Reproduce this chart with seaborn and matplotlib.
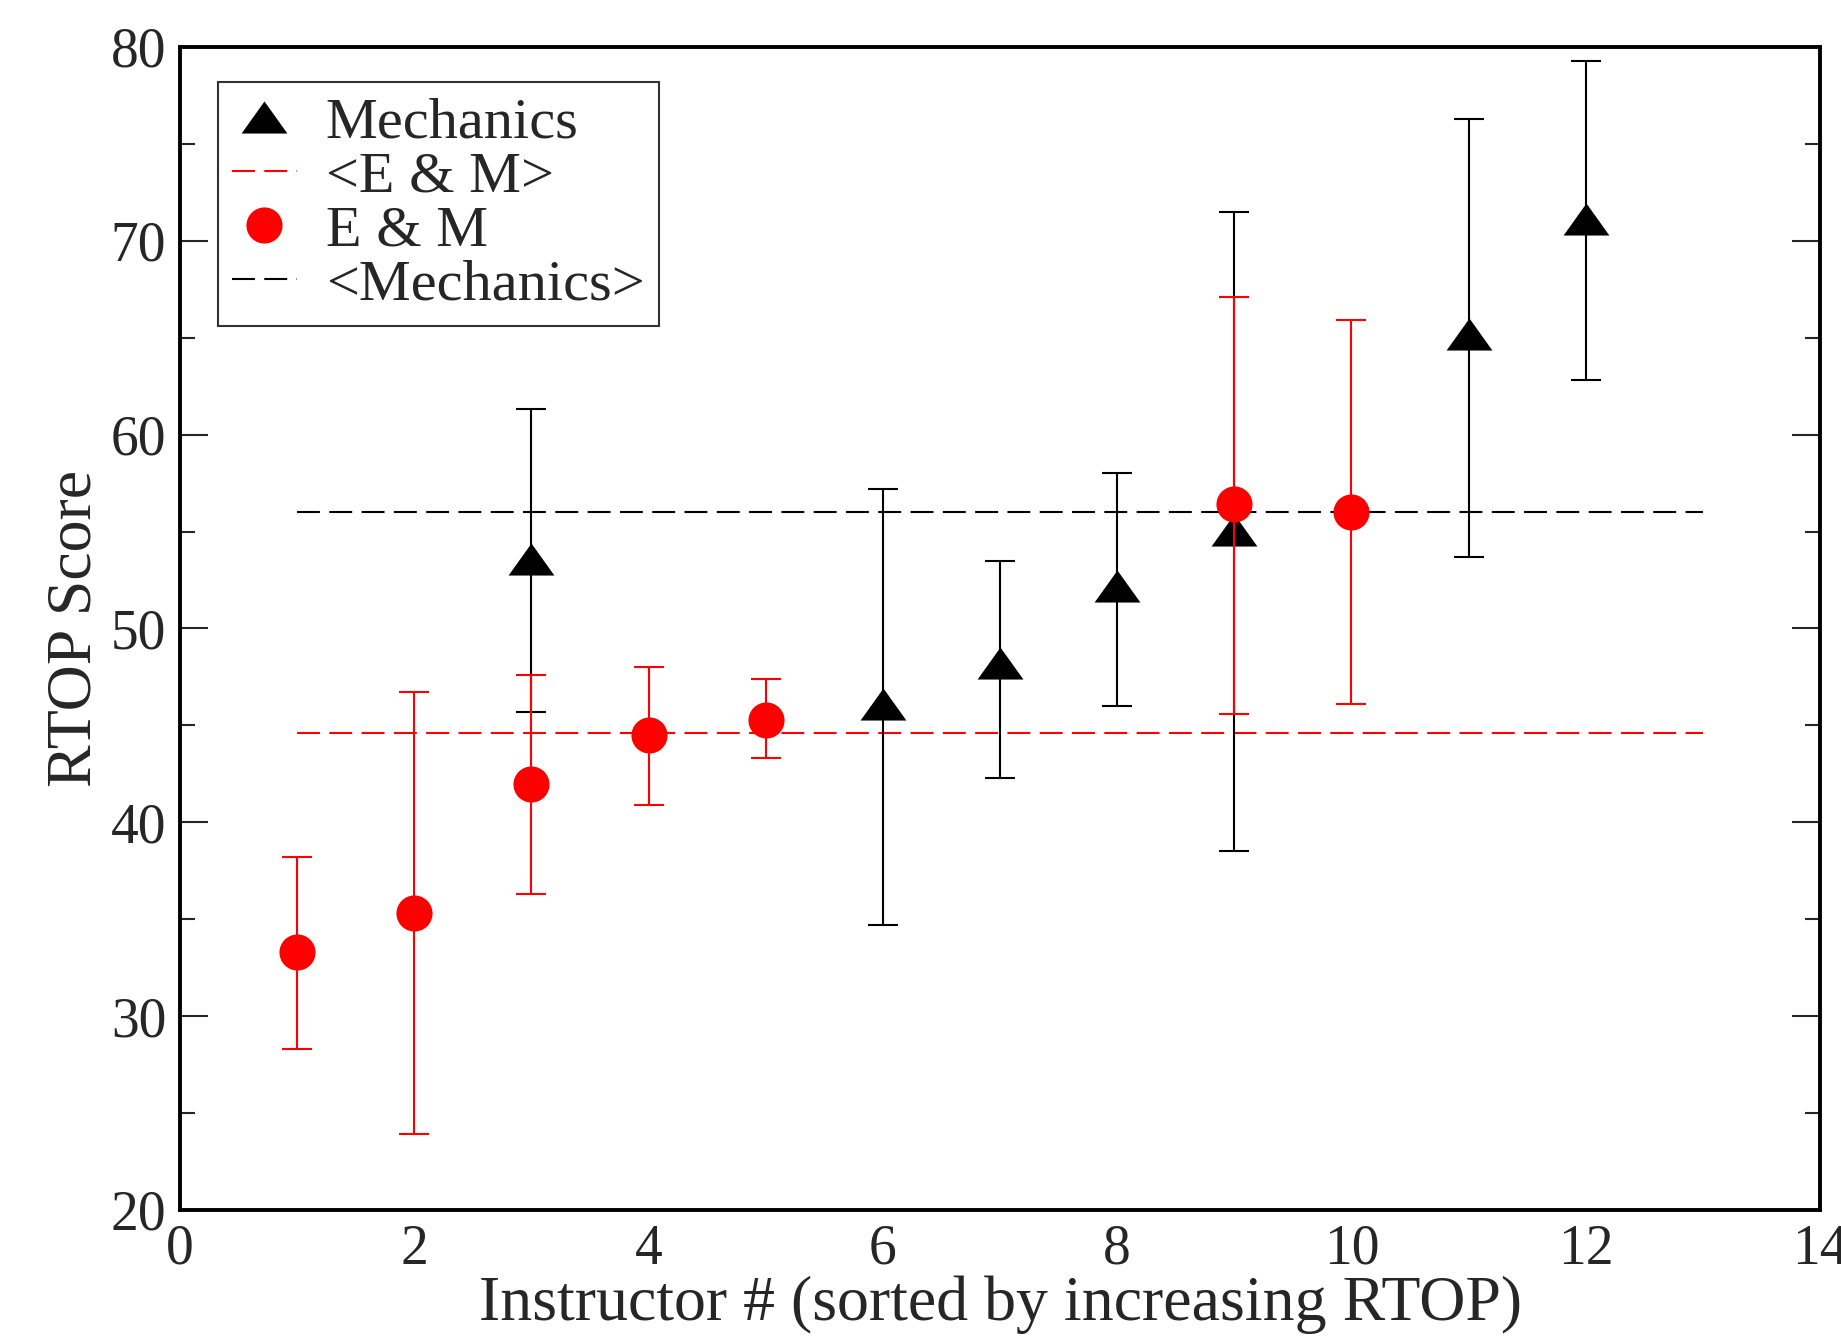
import numpy as np
import matplotlib
matplotlib.use("Agg")
import matplotlib.pyplot as plt
from matplotlib.lines import Line2D
from matplotlib.ticker import MultipleLocator
import seaborn as sns

# E & M instructors
em_x = [1, 2, 3, 4, 5, 9, 10]
em_y = [33.3, 35.3, 42.0, 44.5, 45.3, 56.4, 56.0]
em_lo = [28.3, 23.9, 36.3, 40.9, 43.3, 45.6, 46.1]
em_hi = [38.2, 46.7, 47.6, 48.0, 47.4, 67.1, 65.9]
em_mean = 44.6

# Mechanics instructors
mech_x = [3, 6, 7, 8, 9, 11, 12]
mech_y = [53.6, 46.1, 48.2, 52.2, 55.1, 65.2, 71.1]
mech_lo = [45.7, 34.7, 42.3, 46.0, 38.5, 53.7, 62.8]
mech_hi = [61.3, 57.2, 53.5, 58.0, 71.5, 76.3, 79.3]
mech_mean = 56.0

mean_span = [1, 13]

sns.set_style("white")
plt.rcParams['font.family'] = ['Liberation Serif', 'DejaVu Serif']

tri = [(0, 0.7), (-1, -0.7), (1, -0.7), (0, 0.7)]
dash = (0, (11, 4.5))

fig = plt.figure(figsize=(18.41, 13.41), dpi=100)
ax = fig.add_axes([0.0978, 0.0977, 0.8908, 0.8673])

# mechanics
ax.errorbar(mech_x, mech_y,
            yerr=[np.array(mech_y) - np.array(mech_lo), np.array(mech_hi) - np.array(mech_y)],
            fmt='none', ecolor='black', elinewidth=1.5, capsize=11, capthick=1.5, zorder=2)
sns.scatterplot(x=mech_x, y=mech_y, marker=tri, s=33**2, color='black',
                linewidth=0, ax=ax, zorder=3, legend=False)

# E & M
ax.errorbar(em_x, em_y,
            yerr=[np.array(em_y) - np.array(em_lo), np.array(em_hi) - np.array(em_y)],
            fmt='none', ecolor='red', elinewidth=1.5, capsize=11, capthick=1.5, zorder=4)
sns.scatterplot(x=em_x, y=em_y, marker='o', s=26**2, color='red',
                linewidth=0, ax=ax, zorder=5, legend=False)

# averages
sns.lineplot(x=mean_span, y=[em_mean] * 2, color='red', linestyle=dash, lw=1.5, ax=ax, zorder=1)
sns.lineplot(x=mean_span, y=[mech_mean] * 2, color='black', linestyle=dash, lw=1.5, ax=ax, zorder=1)

ax.set_xlim(0, 14)
ax.set_ylim(20, 80)
ax.xaxis.set_major_locator(MultipleLocator(2))
ax.yaxis.set_major_locator(MultipleLocator(10))
ax.yaxis.set_minor_locator(MultipleLocator(5))
ax.tick_params(axis='x', length=0, pad=10, labelsize=40)
ax.tick_params(axis='y', which='major', direction='in', length=20, width=1.5,
               left=True, right=True, pad=10, labelsize=40)
ax.tick_params(axis='y', which='minor', direction='in', length=11, width=1.5,
               left=True, right=True)
for sp in ax.spines.values():
    sp.set_visible(True)
    sp.set_linewidth(2.8)
    sp.set_color('black')

ax.set_xlabel('Instructor # (sorted by increasing RTOP)', fontsize=46, labelpad=0)
ax.set_ylabel('RTOP Score', fontsize=46, labelpad=4)

handles = [
    Line2D([], [], marker=tri, markersize=33, color='black', linestyle='none', markeredgewidth=0),
    Line2D([], [], color='red', linestyle=dash, lw=1.5),
    Line2D([], [], marker='o', markersize=26, color='red', linestyle='none', markeredgewidth=0),
    Line2D([], [], color='black', linestyle=dash, lw=1.5),
]
labels = ['Mechanics', '<E & M>', 'E & M', '<Mechanics>']
leg = ax.legend(handles, labels, loc='upper left', bbox_to_anchor=(0.023, 0.97),
                fontsize=42, frameon=True, fancybox=False, edgecolor='black',
                handlelength=1.1, handletextpad=0.5, labelspacing=0.02,
                borderpad=0.25, borderaxespad=0)
leg.get_frame().set_linewidth(1.5)

fig.savefig('out.png', dpi=100)
